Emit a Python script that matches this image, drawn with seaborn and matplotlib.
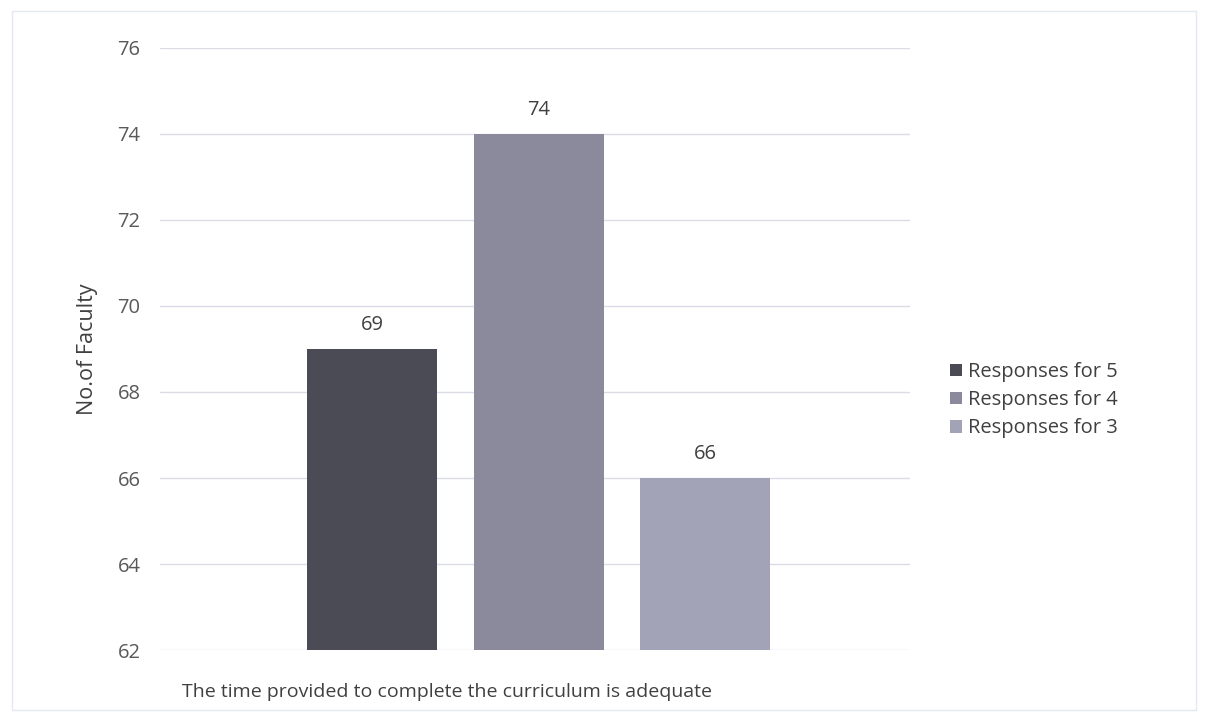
import matplotlib
matplotlib.use("Agg")
import matplotlib.pyplot as plt
import seaborn as sns
import pandas as pd

category = ["The time provided to complete the curriculum is adequate"]
series = ["Responses for 5", "Responses for 4", "Responses for 3"]
values = [69, 74, 66]
colors = ["#4b4b56", "#8a8a9c", "#a3a3b8"]
yticks = [62, 64, 66, 68, 70, 72, 74, 76]

sns.set_theme(style="white")
plt.rcParams["font.family"] = ["Open Sans", "DejaVu Sans"]

df = pd.DataFrame({"cat": category * 3, "series": series, "value": values})

fig = plt.figure(figsize=(12.08, 7.24), dpi=100)
ax = fig.add_axes([0.1325, 0.102, 0.6205, 0.832])

sns.barplot(data=df, x="cat", y="value", hue="series", hue_order=series,
            palette=colors, width=0.667, gap=0.22, ax=ax, legend=True,
            saturation=1, linewidth=0)

ax.set_ylim(62, 76)
ax.set_yticks(yticks)
ax.set_xlim(-0.505, 0.495)
ax.grid(axis="y", color="#dcdce8", linewidth=1)
ax.set_axisbelow(True)
for s in ax.spines.values():
    s.set_visible(False)
ax.tick_params(axis="y", length=0, labelsize=14.5, labelcolor="#595959", pad=14)
ax.tick_params(axis="x", length=0, labelbottom=False)
ax.set_xlabel(category[0], fontsize=14, color="#404040")
ax.xaxis.set_label_coords(0.383, -0.07)
ax.xaxis.label.set_va("center")
ax.set_ylabel("No.of Faculty", fontsize=15.5, color="#404040", labelpad=14)

for cont in ax.containers:
    ax.bar_label(cont, fontsize=14.5, color="#404040", padding=10)

h, l = ax.get_legend_handles_labels()
ax.legend(h, l, loc="center left", bbox_to_anchor=(1.03, 0.415), frameon=False,
          fontsize=14.5, labelcolor="#404040", handlelength=0.6, handleheight=0.6,
          handletextpad=0.3, labelspacing=0.4)

fig.patches.append(plt.Rectangle((0.01, 0.02), 0.98, 0.965, transform=fig.transFigure,
                                 fill=False, edgecolor="#e4e8f0", linewidth=1))

fig.savefig("out.png", dpi=100)
